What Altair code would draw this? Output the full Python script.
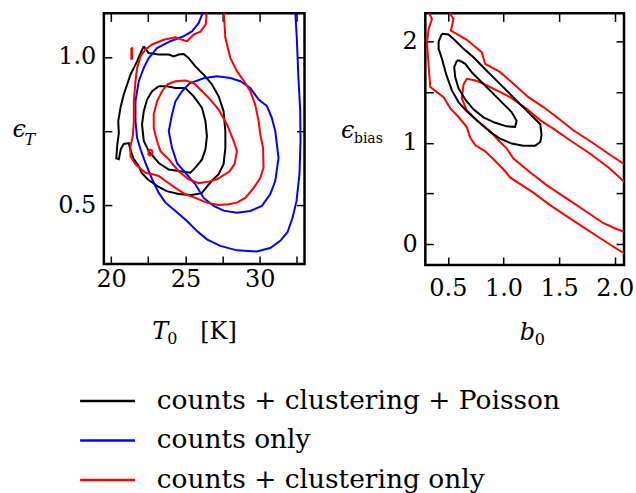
import altair as alt
import pandas as pd

SERIES = ["counts + clustering + Poisson", "counts only", "counts + clustering only"]
COLORS = ["#000000", "#0000ff", "#ff0000"]
FONT = "DejaVu Serif"

# ---------------- left panel: T0 [K] vs eps_T ----------------
T0_RANGE = [19.51, 33.02]
EPST_RANGE = [0.301, 1.147]
T0_TICKS = [20, 22.5, 25, 27.5, 30, 32.5]
T0_LABELS = [20, 25, 30]
EPST_TICKS = [0.5, 0.75, 1.0]
EPST_LABELS = [0.5, 1.0]

L_black_outer_x = [22.20, 22.53, 23.21, 23.88, 24.21, 24.55, 24.89, 25.22, 25.67, 26.23, 26.79, 27.24, 27.57, 27.69, 27.69,
                   27.57, 27.24, 26.77, 26.37, 26.10, 25.42, 24.55, 23.74, 23.21, 22.53, 22.06, 21.86, 21.53, 21.32, 21.19,
                   20.85, 20.65, 20.52, 20.35, 20.42, 20.52, 20.48, 20.63, 20.85, 21.08, 21.30, 21.53, 21.75, 21.98, 22.20]
L_black_outer_y = [1.036, 1.013, 1.008, 1.008, 1.002, 1.008, 1.010, 0.996, 0.968, 0.940, 0.907, 0.867, 0.817, 0.749, 0.692,
                   0.638, 0.604, 0.581, 0.557, 0.540, 0.534, 0.537, 0.547, 0.561, 0.584, 0.608, 0.631, 0.655, 0.682, 0.709,
                   0.706, 0.689, 0.655, 0.658, 0.706, 0.743, 0.783, 0.828, 0.873, 0.907, 0.940, 0.963, 0.985, 1.013, 1.036]
L_black_inner_x = [23.21, 23.76, 24.33, 25.00, 25.56, 26.12, 26.35, 26.45, 26.35, 26.12, 25.67, 25.34, 24.66, 23.88, 23.21,
                   22.53, 22.20, 22.08, 22.20, 22.42, 22.76, 23.21]
L_black_inner_y = [0.901, 0.901, 0.895, 0.895, 0.867, 0.828, 0.783, 0.732, 0.688, 0.654, 0.626, 0.609, 0.614, 0.620, 0.642,
                   0.682, 0.716, 0.772, 0.817, 0.856, 0.884, 0.901]
L_red_outer_x = [26.45, 26.37, 26.03, 25.56, 25.11, 24.77, 24.33, 23.54, 22.76, 22.31, 21.98, 21.75, 21.64, 21.53, 21.53,
                 21.46, 21.30, 21.30, 21.64, 22.31, 22.87, 23.21, 23.66, 24.33, 25.00, 25.67, 26.43, 27.24, 27.91, 28.47,
                 29.03, 29.59, 30.04, 30.26, 30.23, 30.06, 29.93, 29.70, 29.37, 29.03, 28.47, 28.03, 27.69, 27.57]
L_red_outer_y = [1.160, 1.110, 1.086, 1.075, 1.053, 1.058, 1.066, 1.058, 1.042, 1.025, 1.002, 0.963, 0.918, 0.850, 0.783,
                 0.732, 0.699, 0.665, 0.637, 0.609, 0.603, 0.598, 0.581, 0.558, 0.536, 0.524, 0.508, 0.500, 0.503, 0.508,
                 0.524, 0.557, 0.591, 0.626, 0.693, 0.732, 0.783, 0.839, 0.884, 0.912, 0.952, 0.996, 1.064, 1.160]
L_red_inner_x = [23.76, 24.33, 25.00, 25.56, 26.12, 26.68, 27.24, 27.80, 28.25, 28.47, 28.31, 27.98, 27.12, 26.57, 25.89,
                 25.22, 24.55, 23.88, 23.32, 23.09, 22.87, 22.87, 23.09, 23.43, 23.76]
L_red_inner_y = [0.907, 0.918, 0.920, 0.912, 0.884, 0.856, 0.822, 0.772, 0.716, 0.682, 0.638, 0.614, 0.587, 0.579, 0.574,
                 0.587, 0.614, 0.654, 0.682, 0.716, 0.760, 0.806, 0.850, 0.884, 0.907]
L_red_dash_x = [21.36, 21.41, 21.41, 21.36, 21.36]
L_red_dash_y = [1.030, 1.030, 0.994, 0.994, 1.030]
L_red_loop_x = [22.50, 22.56, 22.66, 22.76, 22.78, 22.72, 22.60, 22.51, 22.50]
L_red_loop_y = [0.677, 0.685, 0.687, 0.683, 0.676, 0.669, 0.667, 0.671, 0.677]
L_blue_outer_x = [26.26, 25.89, 25.44, 24.89, 23.99, 23.09, 22.53, 22.20, 21.86, 21.64, 21.64, 21.75, 21.98, 22.31, 22.76,
                  23.21, 23.66, 24.33, 25.11, 25.78, 26.45, 27.35, 28.47, 29.81, 30.71, 31.39, 31.88, 32.21, 32.48, 32.68,
                  32.75, 32.73, 32.61, 32.50, 32.39]
L_blue_outer_y = [1.160, 1.114, 1.086, 1.070, 1.053, 1.030, 0.996, 0.963, 0.918, 0.850, 0.783, 0.726, 0.688, 0.642, 0.587,
                  0.541, 0.508, 0.480, 0.446, 0.412, 0.384, 0.362, 0.347, 0.343, 0.355, 0.379, 0.409, 0.456, 0.513, 0.604,
                  0.716, 0.817, 0.929, 1.064, 1.160]
L_blue_inner_x = [26.23, 27.12, 28.03, 28.70, 29.37, 29.93, 30.49, 30.82, 31.05, 31.27, 31.05, 30.71, 30.15, 29.37, 28.47,
                  27.57, 26.90, 26.23, 25.67, 25.00, 24.44, 24.10, 23.88, 24.10, 24.33, 24.77, 25.29, 26.23]
L_blue_inner_y = [0.928, 0.935, 0.929, 0.918, 0.895, 0.856, 0.834, 0.794, 0.749, 0.659, 0.581, 0.536, 0.497, 0.480, 0.474,
                  0.481, 0.497, 0.524, 0.570, 0.609, 0.641, 0.693, 0.749, 0.806, 0.850, 0.884, 0.911, 0.928]

# ---------------- right panel: b0 vs eps_bias ----------------
B0_RANGE = [0.2975, 2.083]
EPSB_RANGE = [-0.206, 2.275]
B0_TICKS = [0.5, 1.0, 1.5, 2.0]
B0_LABELS = [0.5, 1.0, 1.5, 2.0]
EPSB_TICKS = [0, 0.5, 1, 1.5, 2]
EPSB_LABELS = [0, 1, 2]

R_black_outer_x = [0.446, 0.417, 0.417, 0.446, 0.488, 0.536, 0.596, 0.670, 0.760, 0.880, 0.970, 1.073, 1.178, 1.283,
                   1.331, 1.342, 1.331, 1.241, 1.151, 1.062, 0.945, 0.829, 0.730, 0.641, 0.566, 0.506, 0.446]
R_black_outer_y = [2.073, 1.997, 1.925, 1.830, 1.663, 1.515, 1.400, 1.309, 1.220, 1.105, 1.040, 0.991, 0.970, 0.970,
                   1.007, 1.073, 1.181, 1.279, 1.378, 1.476, 1.604, 1.732, 1.843, 1.925, 2.007, 2.066, 2.073]
R_black_inner_x = [0.581, 0.557, 0.566, 0.596, 0.656, 0.730, 0.820, 0.925, 1.029, 1.104, 1.118, 1.073, 0.990, 0.901,
                   0.811, 0.721, 0.656, 0.605, 0.581]
R_black_inner_y = [1.810, 1.744, 1.646, 1.535, 1.427, 1.328, 1.250, 1.196, 1.161, 1.156, 1.215, 1.302, 1.392, 1.491,
                   1.589, 1.687, 1.778, 1.810, 1.810]
R_red_outer_a_x = [0.491, 0.551, 0.527, 0.670, 0.805, 0.835, 0.970, 1.089, 1.223, 1.358, 1.477, 1.627, 1.790, 1.940, 2.092]
R_red_outer_a_y = [2.322, 2.220, 2.105, 2.014, 1.892, 1.778, 1.695, 1.581, 1.449, 1.351, 1.253, 1.122, 1.007, 0.893, 0.783]
R_red_outer_b_x = [0.312, 0.357, 0.327, 0.312, 0.327, 0.342, 0.461, 0.522, 0.596, 0.670, 0.703, 0.748, 0.835, 0.892,
                   0.999, 1.062, 1.178, 1.268, 1.418, 1.566, 1.716, 1.866, 1.985, 2.092]
R_red_outer_b_y = [2.322, 2.220, 2.122, 1.987, 1.761, 1.548, 1.449, 1.338, 1.253, 1.154, 1.043, 0.974, 0.915, 0.856,
                   0.738, 0.655, 0.571, 0.507, 0.384, 0.276, 0.168, 0.060, -0.024, -0.097]
R_red_inner_x = [2.092, 1.955, 1.776, 1.597, 1.447, 1.331, 1.208, 1.059, 0.939, 0.820, 0.746, 0.670, 0.641, 0.625,
                 0.670, 0.760, 0.880, 0.954, 1.029, 1.089, 1.238, 1.387, 1.566, 1.746, 1.895, 2.014, 2.092]
R_red_inner_y = [0.606, 0.745, 0.893, 1.024, 1.139, 1.220, 1.335, 1.449, 1.515, 1.581, 1.614, 1.630, 1.574, 1.437,
                 1.319, 1.220, 1.112, 1.024, 0.942, 0.844, 0.709, 0.581, 0.450, 0.319, 0.208, 0.149, 0.119]


def frame(parts):
    rows = []
    for series, part, xs, ys in parts:
        for i, (x, y) in enumerate(zip(xs, ys)):
            rows.append({"x": x, "y": y, "series": series, "part": part, "order": i})
    return pd.DataFrame(rows)


color_scale = alt.Scale(domain=SERIES, range=COLORS)
legend = alt.Legend(
    title=None, orient="none", legendX=-9.5, legendY=375, padding=0,
    symbolType="M-2.75,0H2.75", symbolSize=400, symbolStrokeWidth=2.5,
    labelFont=FONT, labelFontSize=26.5, labelColor="black", labelOffset=36,
    rowPadding=12.5, labelLimit=0,
)


def tick_axis(orient, offset, values, title=None, **kw):
    return alt.Axis(orient=orient, offset=offset, values=values, labels=False, domain=False, grid=False,
                    ticks=True, tickSize=8, tickWidth=1.5, tickColor="black", title=title, **kw)


def title_kw(x, y, size, style="normal"):
    return dict(titleX=x, titleY=y, titleAlign="left", titleBaseline="alphabetic", titleAngle=0,
                titleFont=FONT, titleFontSize=size, titleFontStyle=style, titleFontWeight="normal",
                titleColor="black")


def layer(df, xscale, yscale, xaxis, yaxis):
    return alt.Chart(df).mark_line(clip=True, strokeWidth=2).encode(
        x=alt.X("x:Q", scale=xscale, axis=xaxis),
        y=alt.Y("y:Q", scale=yscale, axis=yaxis),
        color=alt.Color("series:N", scale=color_scale, legend=legend),
        detail="part:N",
        order="order:Q",
    )


W1, H1 = 201, 251
W2, H2 = 199, 252

lx = alt.Scale(domain=T0_RANGE, nice=False, zero=False)
ly = alt.Scale(domain=EPST_RANGE, nice=False, zero=False)

left_black = frame([(SERIES[0], "bo", L_black_outer_x, L_black_outer_y),
                    (SERIES[0], "bi", L_black_inner_x, L_black_inner_y)])
left_blue = frame([(SERIES[1], "uo", L_blue_outer_x, L_blue_outer_y),
                   (SERIES[1], "ui", L_blue_inner_x, L_blue_inner_y)])
left_red = frame([(SERIES[2], "ro", L_red_outer_x, L_red_outer_y),
                  (SERIES[2], "ri", L_red_inner_x, L_red_inner_y),
                  (SERIES[2], "rd", L_red_dash_x, L_red_dash_y),
                  (SERIES[2], "rl", L_red_loop_x, L_red_loop_y)])

left = alt.layer(
    layer(left_black, lx, ly,
          alt.Axis(orient="bottom", values=T0_LABELS, ticks=False, domain=False, grid=False, format="d",
                   labelPadding=4, labelFlush=False, title="T", **title_kw(48, 75, 24, "italic")),
          alt.Axis(orient="left", values=EPST_LABELS, ticks=False, domain=False, grid=False, format=".1f",
                   labelPadding=8, title="ϵ", **title_kw(-92, 123, 24, "italic"))),
    layer(left_blue, lx, ly,
          tick_axis("top", -H1, T0_TICKS, "0", **title_kw(63, 80, 16)),
          tick_axis("right", -W1, EPST_TICKS, "T", **title_kw(-80, 131, 16, "italic"))),
    layer(left_red, lx, ly,
          tick_axis("bottom", -H1, T0_TICKS, "[K]", **title_kw(96, 326, 24)),
          tick_axis("left", -W1, EPST_TICKS)),
).resolve_axis(x="independent", y="independent").properties(width=W1, height=H1)

rx = alt.Scale(domain=B0_RANGE, nice=False, zero=False)
ry = alt.Scale(domain=EPSB_RANGE, nice=False, zero=False)

right_black = frame([(SERIES[0], "bo", R_black_outer_x, R_black_outer_y),
                     (SERIES[0], "bi", R_black_inner_x, R_black_inner_y)])
right_red_outer = frame([(SERIES[2], "roa", R_red_outer_a_x, R_red_outer_a_y),
                         (SERIES[2], "rob", R_red_outer_b_x, R_red_outer_b_y)])
right_red_inner = frame([(SERIES[2], "ri", R_red_inner_x, R_red_inner_y)])

right = alt.layer(
    layer(right_red_outer, rx, ry,
          alt.Axis(orient="bottom", values=B0_LABELS, ticks=False, domain=False, grid=False, format=".1f",
                   labelPadding=12, labelFlush=False, title="b", **title_kw(94, 75, 24, "italic")),
          alt.Axis(orient="left", values=EPSB_LABELS, ticks=False, domain=False, grid=False, format="d",
                   labelPadding=8, title="ϵ", **title_kw(-85, 124, 24, "italic"))),
    layer(right_red_inner, rx, ry,
          tick_axis("top", -H2, B0_TICKS, "0", **title_kw(109, 80, 16)),
          tick_axis("right", -W2, EPSB_TICKS, "bias", **title_kw(-72, 129, 14))),
    layer(right_black, rx, ry,
          tick_axis("bottom", -H2, B0_TICKS),
          tick_axis("left", -W2, EPSB_TICKS)),
).resolve_axis(x="independent", y="independent").properties(width=W2, height=H2)

chart = alt.hconcat(left, right, spacing=121, bounds="flush").properties(
    padding={"left": 10, "top": 11, "right": 0, "bottom": 0}
).configure_view(stroke="black", strokeWidth=2.5).configure_axis(
    labelFont=FONT, labelFontSize=24, labelColor="black"
)

chart.save("out.html", embed_options={"renderer": "svg", "actions": False})
